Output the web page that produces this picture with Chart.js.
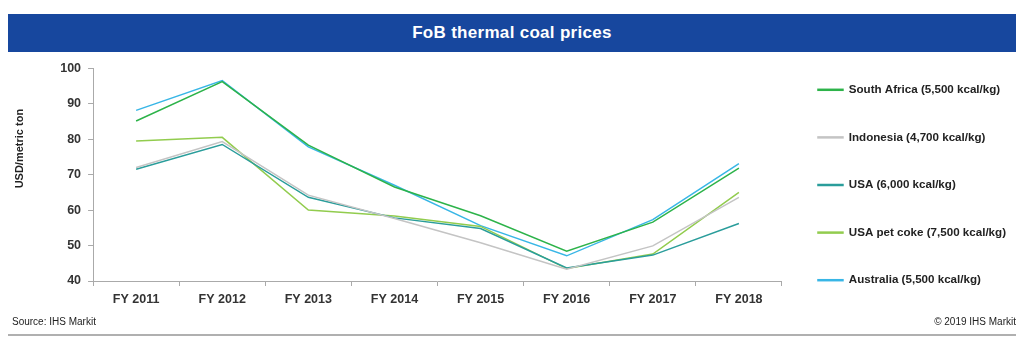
<!DOCTYPE html>
<html>
<head>
<meta charset="utf-8">
<script src="https://cdn.jsdelivr.net/npm/chart.js@4.4.0/dist/chart.umd.min.js"></script>
<style>
  body { margin: 0; background: #fff; width: 1024px; height: 347px; position: relative; overflow: hidden; font-family: "Liberation Sans", Arial, sans-serif; }
  #titlebar { position: absolute; left: 8px; top: 14px; width: 1008px; height: 38px; background: #17479e; color: #fff; font-weight: bold; font-size: 17px; letter-spacing: 0.3px; line-height: 38px; text-align: center; }
  #wrap { position: absolute; left: 0; top: 40px; width: 1024px; height: 290px; }
  .foot { position: absolute; top: 316px; font-family: "Liberation Sans Narrow", "Liberation Sans", Arial, sans-serif; font-size: 10px; color: #222; }
  #rule { position: absolute; left: 8px; top: 334px; width: 1008px; height: 2px; background: #b0b0b0; }
</style>
</head>
<body>
<div id="titlebar">FoB thermal coal prices</div>
<div id="wrap"><canvas id="chart"></canvas></div>
<div class="foot" style="left:12px">Source: IHS Markit</div>
<div class="foot" style="right:8px">© 2019 IHS Markit</div>
<div id="rule"></div>
<script>
const years = ['FY 2011', 'FY 2012', 'FY 2013', 'FY 2014', 'FY 2015', 'FY 2016', 'FY 2017', 'FY 2018'];
const southAfrica = [85.1, 96.2, 78.3, 66.5, 58.4, 48.4, 56.6, 71.8];
const indonesia   = [72.0, 79.3, 64.2, 57.6, 50.8, 43.3, 49.9, 63.6];
const usa         = [71.5, 78.5, 63.6, 57.8, 54.8, 43.7, 47.3, 56.2];
const usaPetCoke  = [79.5, 80.5, 60.0, 58.3, 55.4, 43.5, 47.6, 65.0];
const australia   = [88.1, 96.5, 77.8, 67.0, 55.6, 47.1, 57.3, 73.1];
const yTicks = [40, 50, 60, 70, 80, 90, 100];

function series(label, data, color) {
    return {
        label: label,
        data: data,
        borderColor: color,
        backgroundColor: color,
        borderWidth: 1.5,
        pointRadius: 0,
        tension: 0
    };
}

const config = {
    type: 'line',
    data: {
        labels: years,
        datasets: [
            series('South Africa (5,500 kcal/kg)', southAfrica, '#2db34a'),
            series('Indonesia (4,700 kcal/kg)', indonesia, '#c4c4c4'),
            series('USA (6,000 kcal/kg)', usa, '#2a9d9b'),
            series('USA pet coke (7,500 kcal/kg)', usaPetCoke, '#92cc4e'),
            series('Australia (5,500 kcal/kg)', australia, '#38b6e6')
        ]
    },
    options: {
        responsive: true,
        maintainAspectRatio: false,
        animation: false,
        layout: {
            padding: { left: 9, right: 8, top: 0, bottom: 0 }
        },
        plugins: {
            // empty title only used as spacer above the plot (not across legend)
            title: {
                display: true,
                text: '',
                fullSize: false,
                font: { size: 1 },
                padding: { top: 0, bottom: 27 }
            },
            legend: {
                position: 'right',
                labels: {
                    boxWidth: 25,
                    boxHeight: 1,
                    padding: 36,
                    color: '#222',
                    font: { size: 11.6, weight: 'bold' }
                }
            },
            tooltip: { enabled: false }
        },
        scales: {
            y: {
                min: 40,
                max: 100,
                afterBuildTicks: (axis) => {
                    axis.ticks = yTicks.map(v => ({ value: v }));
                },
                title: {
                    display: true,
                    // leading spaces push the label up, like the original
                    text: '\u00a0'.repeat(17) + 'USD/metric ton',
                    color: '#222',
                    font: { size: 11, weight: 'bold' },
                    padding: { bottom: 27 }
                },
                ticks: {
                    color: '#333',
                    font: { size: 12.5, weight: 'bold' },
                    padding: 7
                },
                grid: {
                    drawOnChartArea: false,
                    tickLength: 5,
                    color: '#aaa'
                },
                border: { color: '#aaa' }
            },
            x: {
                offset: true,
                afterFit: (scale) => { scale.height += 17; },
                ticks: {
                    color: '#333',
                    font: { size: 12.5, weight: 'bold' },
                    padding: 6
                },
                grid: {
                    offset: true,
                    drawOnChartArea: false,
                    tickLength: 5,
                    color: '#aaa'
                },
                border: { color: '#aaa' }
            }
        }
    }
};

Chart.defaults.font.family = '"Liberation Sans", Arial, sans-serif';
const chart = new Chart(document.getElementById('chart'), config);
</script>
</body>
</html>
